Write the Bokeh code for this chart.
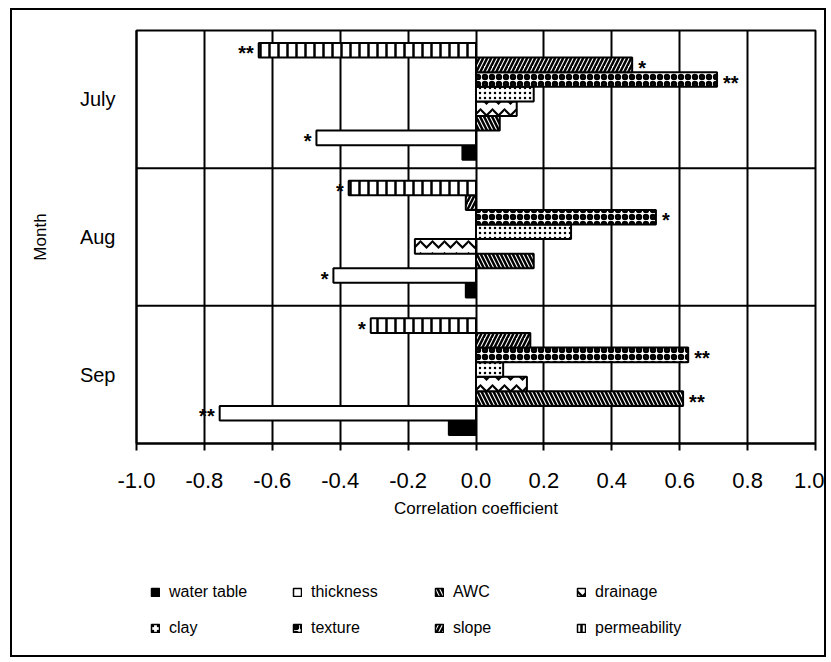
from bokeh.plotting import figure
from bokeh.layouts import column
from bokeh.models import (Range1d, FactorRange, FixedTicker, NumeralTickFormatter, Span,
                          Legend, LegendItem, ColumnDataSource)
from bokeh.transform import dodge
from bokeh.core.properties import value
from bokeh.embed import file_html
from bokeh.resources import INLINE

# ---------------- data ----------------
months = ["July", "Aug", "Sep"]
series = ["water table", "thickness", "AWC", "drainage", "clay", "texture", "slope", "permeability"]

water_table = [-0.04, -0.03, -0.08]
thickness = [-0.47, -0.42, -0.755]
awc = [0.07, 0.17, 0.61]
drainage = [0.12, -0.18, 0.15]
clay = [0.17, 0.28, 0.08]
texture = [0.71, 0.53, 0.625]
slope = [0.46, -0.03, 0.16]
permeability = [-0.64, -0.375, -0.31]

sig_water_table = ["", "", ""]
sig_thickness = ["*", "*", "**"]
sig_awc = ["", "", "**"]
sig_drainage = ["", "", ""]
sig_clay = ["", "", ""]
sig_texture = ["**", "*", "**"]
sig_slope = ["*", "", ""]
sig_permeability = ["**", "*", "*"]

x_ticks = [-1.0, -0.8, -0.6, -0.4, -0.2, 0.0, 0.2, 0.4, 0.6, 0.8, 1.0]

values_list = [water_table, thickness, awc, drainage, clay, texture, slope, permeability]
sig_list = [sig_water_table, sig_thickness, sig_awc, sig_drainage, sig_clay, sig_texture,
            sig_slope, sig_permeability]

# ---------------- styles ----------------
styles = [
    dict(fill_color="black"),
    dict(fill_color="white"),
    dict(fill_color="white", hatch_pattern="left_diagonal_line", hatch_scale=8, hatch_weight=2.5),
    dict(fill_color="white", hatch_pattern="horizontal_wave", hatch_scale=12, hatch_weight=2.2),
    dict(fill_color="white", hatch_pattern="dot", hatch_scale=5, hatch_weight=2),
    dict(fill_color="white", hatch_pattern="ring", hatch_scale=7, hatch_weight=3),
    dict(fill_color="white", hatch_pattern="right_diagonal_line", hatch_scale=8, hatch_weight=2.5),
    dict(fill_color="white", hatch_pattern="vertical_line", hatch_scale=9, hatch_weight=2.5),
]

FONT = "Liberation Sans"

p = figure(y_range=FactorRange(factors=months[::-1]), x_range=Range1d(-1, 1),
           width=812, height=533,
           min_border_left=124, min_border_right=9, min_border_top=20, min_border_bottom=100,
           output_backend="svg", toolbar_location=None)

p.outline_line_color = "black"
p.outline_line_width = 2

# grid
p.xgrid.ticker = FixedTicker(ticks=x_ticks)
p.xgrid.grid_line_color = "black"
p.xgrid.grid_line_width = 2
p.ygrid.grid_line_color = None
for loc in [1, 2]:
    p.add_layout(Span(location=loc, dimension="width", line_color="black", line_width=2))

# x axis
xa = p.xaxis[0]
xa.ticker = FixedTicker(ticks=x_ticks)
xa.formatter = NumeralTickFormatter(format="0.0")
xa.major_label_text_font = FONT
xa.major_label_text_font_size = "22px"
xa.major_label_text_color = "black"
xa.major_label_standoff = 22
xa.axis_line_width = 2
xa.axis_line_color = "black"
xa.major_tick_out = 7
xa.major_tick_in = 0
xa.major_tick_line_width = 2
xa.major_tick_line_color = "black"
xa.minor_tick_line_color = None
xa.axis_label = "Correlation coefficient"
xa.axis_label_text_font = FONT
xa.axis_label_text_font_size = "17px"
xa.axis_label_text_font_style = "normal"
xa.axis_label_text_color = "black"
xa.axis_label_standoff = 8

# y axis
ya = p.yaxis[0]
ya.axis_line_width = 2
ya.axis_line_color = "black"
ya.major_tick_line_color = None
ya.minor_tick_line_color = None
ya.major_label_text_font = FONT
ya.major_label_text_font_size = "20px"
ya.major_label_text_color = "black"
ya.major_label_standoff = 15
ya.axis_label = "Month"
ya.axis_label_text_font = FONT
ya.axis_label_text_font_size = "17px"
ya.axis_label_text_font_style = "normal"
ya.axis_label_text_color = "black"
ya.axis_label_standoff = 27

# legend figure (below the chart)
pl = figure(width=812, height=112, x_range=Range1d(0, 1), y_range=Range1d(0, 1),
            min_border=0, x_axis_location=None, y_axis_location=None,
            output_backend="svg", toolbar_location=None)
pl.outline_line_color = None
pl.grid.visible = False

h = 0.106
shift = -0.015
n = len(series)
items = []
for i, (name, vals, sig, st) in enumerate(zip(series, values_list, sig_list, styles)):
    off = (i - (n - 1) / 2) * h + shift
    src = ColumnDataSource(dict(
        month=months, val=vals, sig=sig,
        align=["right" if v < 0 else "left" for v in vals],
        xoff=[-5 if v < 0 else 6 for v in vals],
    ))
    p.hbar(y=dodge("month", off, range=p.y_range), left=0, right="val", height=h,
           source=src, line_color="black", line_width=2, hatch_color="black", **st)
    p.text(x="val", y=dodge("month", off, range=p.y_range), text="sig", source=src,
           text_align="align", x_offset="xoff", y_offset=3, text_baseline="alphabetic",
           text_font=value(FONT), text_font_style="bold", text_font_size="20px",
           text_color="black")
    # legend swatch renderer: a single zero-width entry lying outside the visible range
    rl = pl.hbar(y=[-5], left=[0], right=[0], height=0.1, line_color="black", line_width=1.5,
                 hatch_color="black", **st)
    items.append(LegendItem(label=name, renderers=[rl]))

legend_rows = [(items[:4], (14, 53)), (items[4:], (14, 17))]
for row_items, loc in legend_rows:
    leg = Legend(items=row_items, orientation="horizontal", location=loc,
                 glyph_width=10, glyph_height=10, label_standoff=9, label_width=113,
                 label_height=20, spacing=10,
                 label_text_font=FONT, label_text_font_size="16px", label_text_color="black",
                 padding=0, margin=0, border_line_color=None, background_fill_alpha=0)
    pl.add_layout(leg)

layout = column(p, pl, spacing=0,
                styles={"border": "2px solid black", "margin-left": "10px", "margin-top": "8px"})

open("out.html", "w").write(file_html(layout, INLINE))
